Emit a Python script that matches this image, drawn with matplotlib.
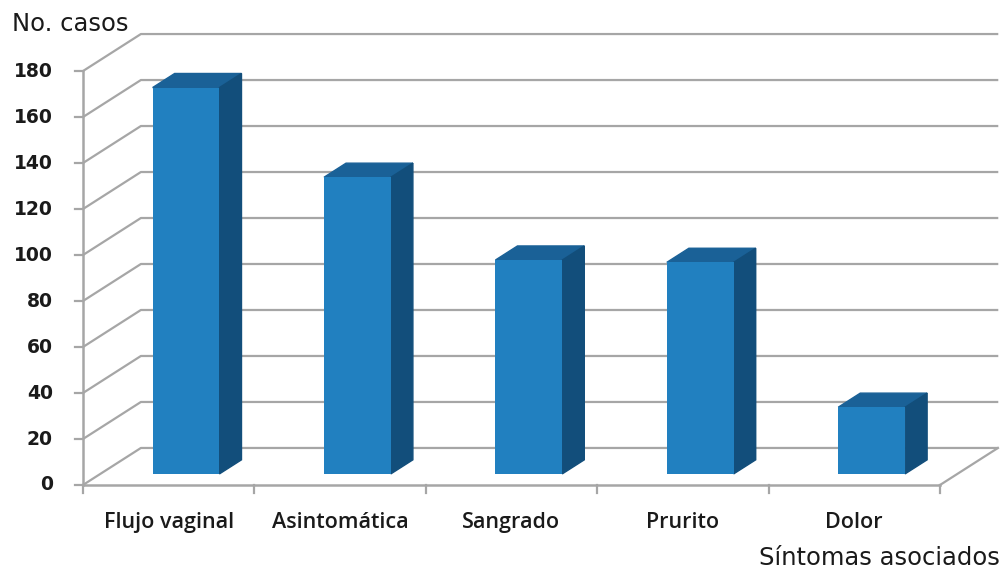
import numpy as np
from matplotlib import pyplot as plt
from matplotlib.patches import Polygon

## Data ##
categories = ["Flujo vaginal", "Asintomática", "Sangrado", "Prurito", "Dolor"]
casos = [168, 129, 93, 92, 29]
y_ticks = [0, 20, 40, 60, 80, 100, 120, 140, 160, 180]
y_label = "No. casos"
x_label = "Síntomas asociados"

## Fake 3D look (Excel style oblique projection) ##
# depth vector in data units: one category = 1.0 in x, values in y
DX = 0.338
DY = 16.1
BAR_D0 = 0.30      # front face of bars sits this far back
BAR_DEPTH = 0.38   # how deep the bars are
BAR_W = 0.39

FRONT = "#2180c0"
TOP = "#1a6197"
SIDE = "#124e7b"
GRID = "#a6a6a6"
TXT = "#1a1a1a"

fig = plt.figure(figsize=(10.06, 5.71), dpi=100)
ax = fig.add_axes([0, 0, 1, 1])
ax.set_xlim(-0.484, 5.385)
ax.set_ylim(-37.4, 210.9)
ax.axis("off")

n = len(categories)
ymax = y_ticks[-1]
x_end = n + 0.34  # gridlines run a bit past the floor corner

# back wall + left wall gridlines
for t in y_ticks:
    ax.plot([0, DX, x_end], [t, t + DY, t + DY], color=GRID, lw=1.6, zorder=1,
            solid_capstyle="butt")
    ax.plot([-0.045, 0], [t, t], color=GRID, lw=1.6, zorder=1)
    ax.text(-0.175, t, str(t), ha="right", va="center", fontsize=13.5,
            fontweight="bold", family="DejaVu Sans", color=TXT)

# floor right edge and front axis
ax.plot([n, n + DX], [0, DY], color=GRID, lw=1.6, zorder=1)
ax.plot([0, n], [0, 0], color=GRID, lw=1.8, zorder=2)
ax.plot([0, 0], [0, ymax], color=GRID, lw=1.8, zorder=2)
for i in range(n + 1):
    ax.plot([i, i], [0, -3.5], color=GRID, lw=1.6, zorder=2)

# bars
xc = np.arange(n) + 0.5
fx = xc + BAR_D0 * DX
base = BAR_D0 * DY
ax.bar(fx, casos, width=BAR_W, bottom=base, color=FRONT, zorder=4)
for x0, v in zip(fx, casos):
    l, r = x0 - BAR_W / 2, x0 + BAR_W / 2
    top = base + v
    ddx, ddy = BAR_DEPTH * DX, BAR_DEPTH * DY
    ax.add_patch(Polygon([(l, top), (r, top), (r + ddx, top + ddy), (l + ddx, top + ddy)],
                         closed=True, color=TOP, zorder=3))
    ax.add_patch(Polygon([(r, base), (r + ddx, base + ddy), (r + ddx, top + ddy), (r, top)],
                         closed=True, color=SIDE, zorder=3))

# category labels
for x0, lab in zip(xc, categories):
    ax.text(x0, -16.5, lab, ha="center", va="center", fontsize=15.5,
            family="Open Sans", fontweight="semibold", color=TXT)

ax.text(-0.415, 200.3, y_label, ha="left", va="center", fontsize=17.5,
        family="DejaVu Sans", color=TXT)
ax.text(5.35, -31.8, x_label, ha="right", va="center", fontsize=17.5,
        family="DejaVu Sans", color=TXT)

plt.savefig("out.png", dpi=100)
